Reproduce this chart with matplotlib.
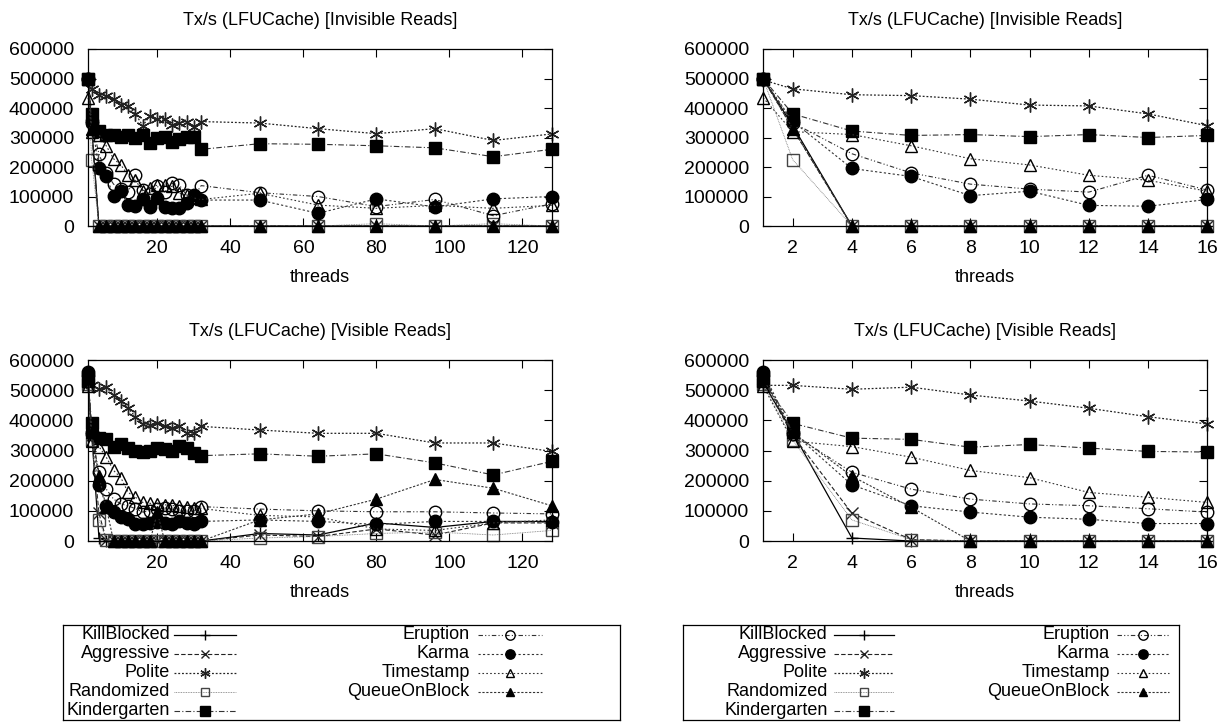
import matplotlib
matplotlib.use('Agg')
import matplotlib.pyplot as plt

plt.rcParams['font.family'] = ['Liberation Sans', 'DejaVu Sans']
plt.rcParams['font.size'] = 13

threads = [1, 2, 4, 6, 8, 10, 12, 14, 16, 18, 20, 22, 24, 26, 28, 30, 32,
           48, 64, 80, 96, 112, 128]

names = ['KillBlocked', 'Aggressive', 'Polite', 'Randomized', 'Kindergarten',
         'Eruption', 'Karma', 'Timestamp', 'QueueOnBlock']

# --- invisible reads ---
kill_inv = [500000, 340000, 0, 0, 0, 0, 0, 0, 0, 0, 0, 0, 0, 0, 0, 0, 0,
            0, 0, 0, 0, 0, 0]
aggr_inv = [500000, 330000, 0, 0, 0, 0, 0, 0, 0, 0, 0, 0, 0, 0, 0, 0, 0,
            0, 0, 0, 0, 0, 0]
polite_inv = [495000, 465000, 445000, 442000, 430000, 410000, 407000, 380000,
              340000, 374000, 362000, 362000, 343000, 349000, 354000, 335000,
              354000, 349000, 330000, 313000, 330000, 290000, 312000]
random_inv = [500000, 225000, 0, 0, 0, 0, 0, 0, 0, 0, 0, 0, 0, 0, 0, 0, 0,
              0, 0, 8000, 0, 8000, 0]
kinder_inv = [500000, 380000, 322000, 307000, 310000, 303000, 310000, 300000,
              307000, 281000, 298000, 303000, 286000, 295000, 301000, 303000,
              260000, 279000, 277000, 272000, 265000, 235000, 260000]
erupt_inv = [500000, 350000, 245000, 180000, 142000, 125000, 115000, 172000,
             122000, 110000, 134000, 115000, 145000, 139000, 105000, 100000,
             137000, 113000, 100000, 66000, 90000, 35000, 75000]
karma_inv = [500000, 355000, 195000, 168000, 103000, 118000, 70000, 67000,
             90000, 66000, 94000, 66000, 60000, 60000, 77000, 105000, 88000,
             88000, 43000, 92000, 65000, 92000, 100000]
stamp_inv = [435000, 320000, 310000, 272000, 228000, 207000, 172000, 155000,
             118000, 128000, 139000, 139000, 134000, 111000, 105000, 95000,
             90000, 111000, 71000, 60000, 70000, 60000, 70000]
queue_inv = [500000, 330000, 0, 0, 0, 0, 0, 0, 0, 0, 0, 0, 0, 0, 0, 0, 0,
             0, 0, 0, 0, 0, 0]

# --- visible reads ---
kill_vis = [525000, 360000, 10000, 0, 0, 0, 0, 0, 0, 0, 0, 0, 0, 0, 0, 0, 0,
            25000, 20000, 60000, 45000, 65000, 65000]
aggr_vis = [530000, 350000, 92000, 5000, 0, 0, 0, 0, 0, 0, 0, 0, 0, 0, 0, 0,
            0, 20000, 15000, 40000, 20000, 60000, 60000]
polite_vis = [516000, 516000, 503000, 510000, 484000, 464000, 440000, 412000,
              388000, 383000, 391000, 380000, 375000, 380000, 358000, 358000,
              380000, 368000, 357000, 357000, 325000, 325000, 297000]
random_vis = [520000, 335000, 70000, 5000, 0, 0, 0, 0, 0, 0, 0, 0, 0, 0, 0,
              0, 0, 10000, 15000, 25000, 30000, 20000, 35000]
kinder_vis = [530000, 390000, 341000, 337000, 311000, 320000, 308000, 297000,
              295000, 298000, 309000, 304000, 298000, 315000, 309000, 293000,
              283000, 289000, 281000, 289000, 259000, 219000, 264000]
erupt_vis = [550000, 355000, 228000, 172000, 139000, 123000, 117000, 107000,
             96000, 100000, 105000, 110000, 105000, 100000, 98000, 100000,
             114000, 106000, 100000, 97000, 97000, 93000, 90000]
karma_vis = [560000, 360000, 186000, 117000, 96000, 79000, 72000, 58000,
             58000, 60000, 62000, 60000, 58000, 65000, 60000, 55000, 65000,
             70000, 65000, 55000, 65000, 65000, 62000]
stamp_vis = [515000, 331000, 313000, 278000, 234000, 210000, 161000, 145000,
             128000, 125000, 123000, 120000, 118000, 115000, 112000, 110000,
             108000, 85000, 80000, 40000, 35000, 60000, 70000]
queue_vis = [540000, 360000, 215000, 112000, 0, 0, 0, 0, 0, 0, 95000, 0, 0,
             0, 0, 0, 0, 70000, 90000, 139000, 204000, 175000, 117000]

invisible = [kill_inv, aggr_inv, polite_inv, random_inv, kinder_inv,
             erupt_inv, karma_inv, stamp_inv, queue_inv]
visible = [kill_vis, aggr_vis, polite_vis, random_vis, kinder_vis,
           erupt_vis, karma_vis, stamp_vis, queue_vis]

asterisk = (6, 2, 0)
styles = [
    dict(ls='-', marker='+', color='black', mfc='none', ms=9, lw=0.9),
    dict(ls=(0, (4, 2)), marker='x', color='#222222', mfc='none', ms=8, lw=0.8),
    dict(ls=(0, (1.5, 1.5)), marker=asterisk, color='#222222', mfc='none', ms=10, lw=0.9),
    dict(ls=(0, (1, 1)), marker='s', color='#777777', mec='#444444', mfc='none', ms=8, lw=0.6),
    dict(ls=(0, (5, 2, 1, 2)), marker='s', color='#333333', mec='black', mfc='black', ms=9, lw=0.8),
    dict(ls=(0, (4, 2, 1, 2, 1, 2)), marker='o', color='#333333', mec='black', mfc='none', ms=9, lw=0.8),
    dict(ls=(0, (2, 2)), marker='o', color='#333333', mec='black', mfc='black', ms=9, lw=0.8),
    dict(ls=(0, (1.5, 2)), marker='^', color='#333333', mec='black', mfc='none', ms=8, lw=0.8),
    dict(ls=(0, (2, 1.5)), marker='^', color='#333333', mec='black', mfc='black', ms=8, lw=0.8),
]


def draw_panel(ax, data, xmax, xticks, title):
    for values, st in zip(data, styles):
        xs = [t for t in threads if t <= xmax]
        ys = values[:len(xs)]
        ax.plot(xs, ys, clip_on=False, **st)
    ax.set_xlim(1, xmax)
    ax.set_ylim(0, 600000)
    ax.set_xticks(xticks)
    ax.set_yticks(range(0, 600001, 100000))
    ax.tick_params(direction='in', top=True, right=True, length=6, width=0.8,
                   labelsize=14, pad=10)
    ax.set_xlabel('threads', fontsize=13, labelpad=9)
    ax.set_title(title, fontsize=13, pad=17)
    for sp in ax.spines.values():
        sp.set_linewidth(0.9)


def draw_legend(ax, text_x, line_x0, line_x1, text_x2, line_x2a, line_x2b):
    ax.set_xlim(0, 1)
    ax.set_ylim(0, 1)
    ax.set_xticks([])
    ax.set_yticks([])
    for sp in ax.spines.values():
        sp.set_linewidth(0.9)
    rows = [0.9, 0.7, 0.5, 0.3, 0.1]
    for i, (name, st) in enumerate(zip(names, styles)):
        if i < 5:
            y, tx, a, b = rows[i], text_x, line_x0, line_x1
        else:
            y, tx, a, b = rows[i - 5], text_x2, line_x2a, line_x2b
        ax.text(tx, y, name, ha='right', va='center', fontsize=13)
        s = dict(st)
        s['ms'] = s['ms'] * 0.75
        ax.plot([a, b], [y, y], ls=s['ls'], color=s['color'], lw=s['lw'])
        ax.plot([(a + b) / 2], [y], ls='none',
                **{k: v for k, v in s.items() if k not in ('ls', 'lw')})


fig = plt.figure(figsize=(12.17, 7.27), dpi=100)

ax_tl = fig.add_axes([0.0723, 0.6891, 0.381, 0.2435])
ax_tr = fig.add_axes([0.627, 0.6891, 0.365, 0.2435])
ax_bl = fig.add_axes([0.0723, 0.2558, 0.381, 0.249])
ax_br = fig.add_axes([0.627, 0.2558, 0.365, 0.249])

draw_panel(ax_tl, invisible, 128, range(20, 121, 20),
           'Tx/s (LFUCache) [Invisible Reads]')
draw_panel(ax_tr, invisible, 16, range(2, 17, 2),
           'Tx/s (LFUCache) [Invisible Reads]')
draw_panel(ax_bl, visible, 128, range(20, 121, 20),
           'Tx/s (LFUCache) [Visible Reads]')
draw_panel(ax_br, visible, 16, range(2, 17, 2),
           'Tx/s (LFUCache) [Visible Reads]')

leg_l = fig.add_axes([0.0518, 0.0096, 0.4577, 0.1307])
draw_legend(leg_l, 0.192, 0.2, 0.31, 0.73, 0.745, 0.86)
leg_r = fig.add_axes([0.561, 0.0096, 0.408, 0.1307])
draw_legend(leg_r, 0.292, 0.305, 0.425, 0.86, 0.875, 0.98)

fig.savefig('out.png', dpi=100)
